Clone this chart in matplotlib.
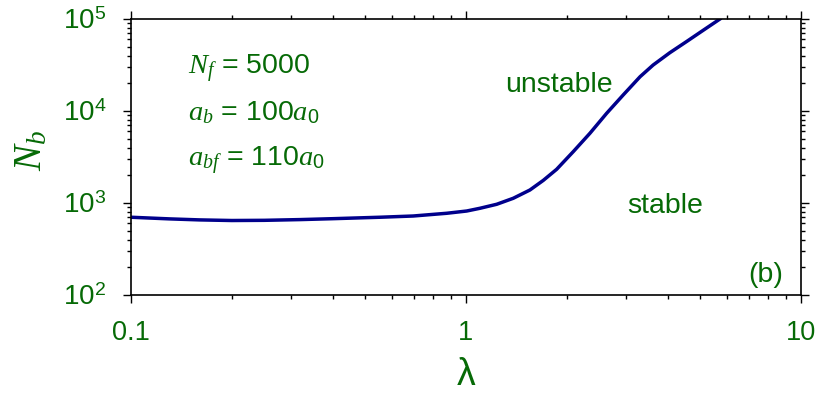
import matplotlib
matplotlib.use("Agg")
import matplotlib.pyplot as plt
from matplotlib.ticker import LogLocator, FixedLocator, FixedFormatter, NullFormatter

plt.rcParams['font.family'] = ['Liberation Sans', 'DejaVu Sans']
plt.rcParams['mathtext.fontset'] = 'custom'
plt.rcParams['mathtext.rm'] = 'Liberation Sans'
plt.rcParams['mathtext.it'] = 'Liberation Serif:italic'
plt.rcParams['mathtext.bf'] = 'Liberation Sans:bold'

# data
lam = [0.1, 0.13, 0.16, 0.2, 0.25, 0.32, 0.4, 0.554, 0.696, 0.876, 1.005, 1.101,
       1.235, 1.384, 1.552, 1.701, 1.865, 2.09, 2.345, 2.63, 2.95, 3.31, 3.62,
       4.06, 4.56, 5.11, 5.73]
Nb = [700, 672, 655, 645, 648, 660, 675, 700, 722, 773, 818, 876,
      968, 1125, 1384, 1760, 2323, 3610, 5730, 9440, 15000, 23600, 31600,
      43000, 57000, 75500, 100000]

xticks = [0.1, 1, 10]
xticklabels = ['0.1', '1', '10']
yticks = [1e2, 1e3, 1e4, 1e5]
yticklabels = [r'$10^2$', r'$10^3$', r'$10^4$', r'$10^5$']

green = '#066a06'
navy = '#00008c'

fig = plt.figure(figsize=(8.3, 3.96), dpi=100)
ax = fig.add_axes([0.1578, 0.2551, 0.8072, 0.6969])
ax.plot(lam, Nb, color=navy, lw=2.5, solid_joinstyle='round')
ax.set_xscale('log')
ax.set_yscale('log')
ax.set_xlim(0.1, 10)
ax.set_ylim(1e2, 1e5)

ax.xaxis.set_major_locator(FixedLocator(xticks))
ax.xaxis.set_major_formatter(FixedFormatter(xticklabels))
ax.yaxis.set_major_locator(FixedLocator(yticks))
ax.yaxis.set_major_formatter(FixedFormatter(yticklabels))
ax.xaxis.set_minor_locator(LogLocator(base=10, subs=range(2, 10)))
ax.yaxis.set_minor_locator(LogLocator(base=10, subs=range(2, 10)))
ax.xaxis.set_minor_formatter(NullFormatter())
ax.yaxis.set_minor_formatter(NullFormatter())

ax.tick_params(which='both', direction='out', top=True, right=True, width=1.0, color='black')
ax.tick_params(which='major', length=6)
ax.tick_params(which='minor', length=3)
ax.tick_params(axis='x', which='major', labelsize=19.5, labelcolor=green, pad=12)
ax.tick_params(axis='y', which='major', labelsize=20, labelcolor=green, pad=12)
for s in ax.spines.values():
    s.set_linewidth(1.2)

ax.set_xlabel('λ', fontsize=27, color=green)
ax.xaxis.set_label_coords(0.5, -0.225)
ax.set_ylabel(r'$N_b$', fontsize=28, color=green)
ax.yaxis.set_label_coords(-0.122, 0.525)

tk = dict(transform=ax.transAxes, color=green, fontsize=20.5, va='baseline')
ax.text(0.085, 0.80, r'$N_f$ = 5000', ha='left', **tk)
ax.text(0.085, 0.634, r'$a_b$ = 100$a_0$', ha='left', **tk)
ax.text(0.085, 0.467, r'$a_{bf}$ = 110$a_0$', ha='left', **tk)
ax.text(0.558, 0.737, 'unstable', ha='left', **tk)
ax.text(0.74, 0.298, 'stable', ha='left', **tk)
ax.text(0.973, 0.048, '(b)', ha='right', **tk)

fig.savefig('out.png', dpi=100)
